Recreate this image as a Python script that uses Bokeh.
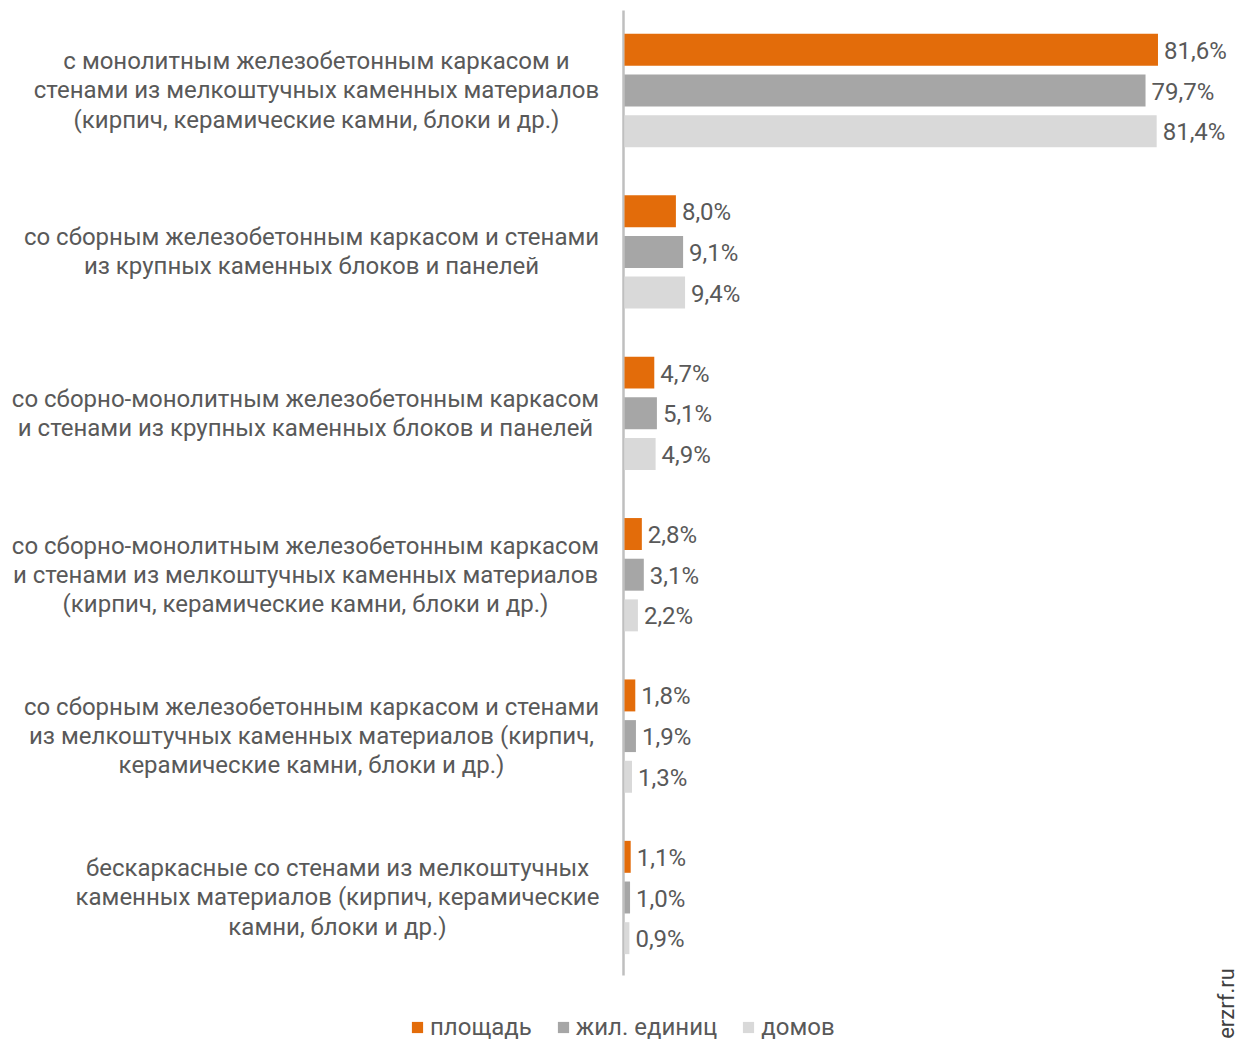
from bokeh.plotting import figure
from bokeh.models import Range1d, Label, Legend, LegendItem, ColumnDataSource
from bokeh.core.properties import value
from bokeh.embed import file_html
from bokeh.resources import INLINE
import math

categories = [
    "с монолитным железобетонным каркасом и\nстенами из мелкоштучных каменных материалов\n(кирпич, керамические камни, блоки и др.)",
    "со сборным железобетонным каркасом и стенами\nиз крупных каменных блоков и панелей",
    "со сборно-монолитным железобетонным каркасом\nи стенами из крупных каменных блоков и панелей",
    "со сборно-монолитным железобетонным каркасом\nи стенами из мелкоштучных каменных материалов\n(кирпич, керамические камни, блоки и др.)",
    "со сборным железобетонным каркасом и стенами\nиз мелкоштучных каменных материалов (кирпич,\nкерамические камни, блоки и др.)",
    "бескаркасные со стенами из мелкоштучных\nкаменных материалов (кирпич, керамические\nкамни, блоки и др.)",
]
series_names = ["площадь", "жил. единиц", "домов"]
area = [81.6, 8.0, 4.7, 2.8, 1.8, 1.1]
units = [79.7, 9.1, 5.1, 3.1, 1.9, 1.0]
houses = [81.4, 9.4, 4.9, 2.2, 1.3, 0.9]
watermark = "erzrf.ru"

colors = ["#E36C0A", "#A6A6A6", "#D9D9D9"]
text_color = "#595959"
FONT = "Roboto"

W, H = 1238, 1042
x0_px = 623          # pixel of value 0
px_per_unit = 6.55   # pixels per percent
g_px = 161.4         # pixels per category
g0_px = 90           # pixel of first category centre

def xd(px):
    return (px - x0_px) / px_per_unit

def yd(py):
    return (py - g0_px) / g_px

p = figure(width=W, height=H, output_backend="svg", toolbar_location=None,
           x_range=Range1d(xd(0), xd(W)), y_range=Range1d(yd(H), yd(0)),
           min_border_left=0, min_border_right=0, min_border_top=0, min_border_bottom=0)
p.outline_line_color = None
p.grid.visible = False
p.xaxis.visible = False
p.yaxis.visible = False
p.background_fill_color = "white"
p.border_fill_color = "white"

n = len(categories)
# category axis line
p.segment(x0=[0], x1=[0], y0=[yd(10)], y1=[yd(975)], line_color="#BFBFBF", line_width=2.5)

offsets = [-0.252, 0.0, 0.252]
items = []
for s, (vals, name, col, off) in enumerate(zip([area, units, houses], series_names, colors, offsets)):
    ys = [i + off for i in range(n)]
    src = ColumnDataSource(dict(y=ys, x=vals, lab=[f"{v:.1f}%".replace(".", ",") for v in vals]))
    r = p.hbar(y="y", right="x", left=0.15, height=0.198, source=src, fill_color=col, line_color=None)
    p.text(x="x", y="y", text="lab", source=src, x_offset=6, y_offset=1, text_baseline="middle",
           text_align="left", text_font=value(FONT), text_font_size="24px", text_color=text_color)
    items.append(LegendItem(label=name, renderers=[r]))

centers_px = [316, 311, 305, 305, 311, 337]
for i, (cat, cx) in enumerate(zip(categories, centers_px)):
    p.add_layout(Label(x=xd(cx), y=i, text=cat, text_align="center",
                       text_baseline="middle", text_font=FONT, text_font_size="24px",
                       text_color=text_color, text_line_height=1.04))

p.add_layout(Label(x=xd(1226), y=yd(1003), text=watermark,
                   angle=math.pi / 2, text_align="center", text_baseline="middle",
                   text_font=FONT, text_font_size="22px", text_color="#404040"))

legend = Legend(items=items, orientation="horizontal", location=(410, 1),
                glyph_width=14, glyph_height=14, label_standoff=6, spacing=24,
                padding=0, margin=0, border_line_color=None, background_fill_alpha=0,
                label_text_font=FONT, label_text_font_size="24px", label_text_color=text_color,
                label_height=26)
p.add_layout(legend, "center")

open("out.html", "w").write(file_html(p, INLINE))
